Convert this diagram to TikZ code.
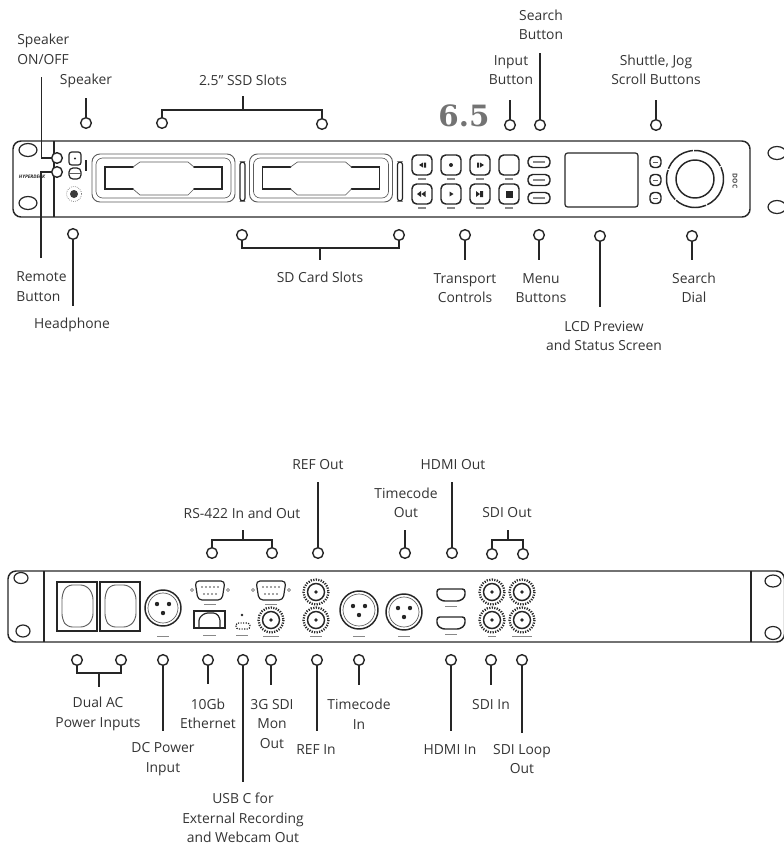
\documentclass[tikz,border=0pt]{standalone}
\usepackage{fontspec}
\setmainfont{Open Sans}
\newfontfamily\digitfont{DejaVu Serif}
\usetikzlibrary{positioning}
\definecolor{ink}{RGB}{38,38,38}
\definecolor{labelink}{RGB}{52,52,52}
\tikzset{
  panel/.style={draw=ink,line width=1.1pt,rounded corners=6pt},
  earline/.style={draw=ink,line width=0.9pt},
  thinpart/.style={draw=ink!75,line width=0.5pt},
  part/.style={draw=ink,line width=0.9pt},
  heavypart/.style={draw=ink,line width=1.3pt},
  knob/.style={part,rounded corners=3pt},
  tick/.style={draw=ink!55,line width=1pt},
  callout/.style={circle,draw=ink,line width=1.05pt,fill=white,minimum size=8pt,inner sep=0pt},
  lead/.style={draw=ink,line width=1pt},
  lab/.style={font=\fontsize{10.4}{14.6}\selectfont,text=labelink,align=center,inner sep=0pt},
}
\begin{document}
\begin{tikzpicture}[x=0.75pt,y=-0.75pt]
\useasboundingbox (0,0) rectangle (784,847);
% front panel
\draw[panel] (13,141) rectangle (750,217);
\draw[earline] (54,141) -- (54,217);
\draw[part] (28,150) ellipse [x radius=9,y radius=6.5];
\draw[part] (28,203) ellipse [x radius=9,y radius=6.5];
\draw[part] (777,153) ellipse [x radius=9,y radius=6.5];
\draw[part] (777,207) ellipse [x radius=9,y radius=6.5];
\node[font=\fontsize{3.6}{4}\selectfont\bfseries\itshape,text=ink,inner sep=0pt] (logo) at (32,177) {HYPERDECK};
\node[font=\fontsize{5}{5}\selectfont\bfseries,text=ink!85,rotate=-90,inner sep=0pt] (brand) at (735,181) {DOC};
% speaker, remote, headphone
\draw[knob,rounded corners=2pt] (69,152) rectangle (81,165);
\fill[ink] (75,158.5) circle (1.2);
\draw[knob] (69,168) rectangle (81,179);
\draw[thinpart] (69,173.5) -- (81,173.5);
\draw[heavypart] (86,160) -- (86,171);
\draw[thinpart,densely dotted] (74,194) circle (7.5);
\fill[ink!90] (74,194) circle (4);
% disk slots
\foreach \dx/\sw in {0/117,157.5/120}{
  \begin{scope}[xshift=\dx*0.75pt]
  \draw[thinpart,rounded corners=6pt,line width=0.7pt] (92,154) rectangle (235,202);
  \draw[thinpart,rounded corners=5pt] (96,158) rectangle (231,198);
  \draw[heavypart,line cap=round] (133,167) -- (105,167) -- (105,189) -- (133,189);
  \draw[heavypart,line cap=round] (194,189) -- (222,189) -- (222,167) -- (194,167);
  \draw[thinpart] (133,167) -- (140,162) -- (188,162) -- (194,167);
  \draw[thinpart] (133,189) -- (140,195) -- (188,195) -- (194,189);
  \draw[part,rounded corners=2pt] (240,162) rectangle (245,201);
  \end{scope}
}
% transport buttons
\foreach \bx in {422,451,480,509}{
  \foreach \by in {165,194}{
    \draw[knob,line width=1.1pt,rounded corners=3.5pt] (\bx-10,\by-10) rectangle (\bx+10,\by+10);
    \draw[tick] (\bx-4,\by+14) -- (\bx+4,\by+14);
  }
}
\fill[ink] (419,165) -- (423,162.5) -- (423,167.5) -- cycle (424,162.5) rectangle (426,167.5);
\fill[ink] (451,165) circle (2);
\fill[ink] (477,162.5) rectangle (479,167.5) (480,162.5) -- (484,165) -- (480,167.5) -- cycle;
\fill[ink] (417,194) -- (421,191) -- (421,197) -- cycle (421.5,194) -- (425.5,191) -- (425.5,197) -- cycle;
\fill[ink] (449.5,191.5) -- (453.5,194) -- (449.5,196.5) -- cycle;
\fill[ink] (476,191) -- (480,194) -- (476,197) -- cycle (480,191) rectangle (483,197);
\fill[ink] (505.5,190.5) rectangle (512.5,197.5);
% menu buttons, screen, side buttons, dial
\foreach \by in {162,180,198}{
  \draw[knob,line width=1.1pt,rounded corners=3.5pt] (528,\by-5.5) rectangle (550,\by+5.5);
  \draw[tick] (533,\by) -- (545,\by);
  \draw[knob,line width=1.1pt] (650,\by-5.5) rectangle (661,\by+5.5);
  \draw[thinpart] (653,\by) -- (658,\by);
}
\draw[part,rounded corners=2pt] (565,153) rectangle (638,207);
\draw[part,line width=1.1pt,dash pattern=on 24pt off 1pt] (695,179) circle (28.5);
\draw[part,line width=1.1pt] (695,179) circle (19);
% rear panel
\draw[panel] (8,571) rectangle (784.5,642);
\draw[earline] (44,571) -- (44,642);
\draw[earline] (751,571) -- (751,642);
\draw[part] (21,578) ellipse [x radius=7,y radius=5.5];
\draw[part] (23,631) ellipse [x radius=7,y radius=6];
\draw[part] (773,581) ellipse [x radius=8,y radius=6];
\draw[part] (773,633) ellipse [x radius=8,y radius=6.5];
% power inlets
\foreach \px in {57,100}{
  \draw[part] (\px,582) rectangle (\px+40,631);
  \draw[thinpart,rounded corners=4pt,line width=0.7pt] (\px+10,585) -- (\px+29,585) -- (\px+36,594) -- (\px+36,619) -- (\px+29,627) -- (\px+10,627) -- (\px+5,619) -- (\px+5,594) -- cycle;
}
% xlr connectors
\foreach \cx/\cy/\cr in {163/608/18,359/610/19,404/612/18}{
  \draw[part,line width=1.1pt] (\cx,\cy) circle (\cr);
  \draw[thinpart] (\cx,\cy) circle (\cr-3);
  \fill[ink] (\cx-6,\cy-4) circle (2.2) (\cx+6,\cy-4) circle (2.2) (\cx,\cy+5) circle (2.2);
  \draw[tick,line width=0.7pt] (\cx-6,636) -- (\cx+6,636);
}
% serial ports
\foreach \cx/\wd in {210/15,271/15}{
  \draw[part,rounded corners=3pt] (\cx-\wd,581) -- (\cx+\wd,581) -- (\cx+\wd-3,600) -- (\cx-\wd+3,600) -- cycle;
  \foreach \ox in {-8,-4,0,4,8}{\fill[ink!85] (\cx+\ox,587) circle (0.8);}
  \foreach \ox in {-6,-2,2,6}{\fill[ink!85] (\cx+\ox,594) circle (0.8);}
  \draw[thinpart] (\cx-18,590) circle (1.5) (\cx+18,590) circle (1.5);
  \draw[tick,line width=0.7pt] (\cx-6,604) -- (\cx+6,604);
}
% ethernet and usb
\draw[part] (194,611) rectangle (225,628);
\draw[part,rounded corners=2pt] (199,628) -- (199,618) -- (205,613) -- (216,613) -- (220,618) -- (220,628);
\draw[tick,line width=0.7pt] (203,635) -- (216,635);
\fill[ink] (242,615) circle (1.3);
\draw[part,densely dotted,rounded corners=2pt] (236,623) rectangle (250,629);
\draw[tick,line width=0.7pt] (236,635) -- (248,635);
% bnc connectors
\foreach \cx/\cy in {271/620,316/592,316/620,492/592,522/592,492/620,522/620}{
  \draw[part,densely dotted,line width=1.7pt] (\cx,\cy) circle (12.5);
  \draw[part,line width=1.1pt] (\cx,\cy) circle (8.5);
  \fill[ink] (\cx,\cy) circle (1.8);
}
\draw[tick,line width=0.7pt] (263,636) -- (279,636) (310,636) -- (322,636) (488,636) -- (496,636) (512,636) -- (532,636);
% hdmi ports
\foreach \cy in {595,623}{
  \draw[part,line width=1.1pt,rounded corners=2pt] (437,\cy-6) -- (465,\cy-6) -- (465,\cy+2) -- (460,\cy+6) -- (442,\cy+6) -- (437,\cy+2) -- cycle;
  \draw[tick,line width=0.7pt] (445,\cy+11) -- (457,\cy+11);
}
% single callouts, front panel and rear panel
\foreach \n/\x/\y/\e in {spk/86/123/98,inp/510/125/100,srch/540/125/53,shut/656/125/100,
    head/73/234/306,tran/465/235/260,menu/539/235/260,lcd/600/236/307,dial/692/236/260,
    refo/318/553/482,tco/405/553/530,hdmo/452/553/482,
    dcin/163/660/731,eth/208/660/684,usb/243/660/782,mon/271/660/685,refi/317/660/731,
    tci/359/660/685,hdmi/451/660/731,sdii/491/660/685,loop/522/660/733}{
  \node[callout] (m\n) at (\x,\y) {};
  \coordinate (e\n) at (\x,\e);
  \draw[lead] (m\n) -- (e\n);
}
% speaker on/off and remote callouts
\node[callout] (mspo) at (57,158) {};
\node[callout] (mrem) at (57,172) {};
\coordinate (espo) at (41.5,77);
\coordinate (erem) at (41,258);
\draw[lead] (espo) |- (mspo);
\draw[lead] (erem) |- (mrem);
% paired callouts
\foreach \n/\xa/\ya/\xb/\yb/\br/\sx/\se in {ssd/162/123/322/124/110/243/96,sdc/242/235/399/235/248/320/260,
    rsp/212/553/272/553/540/243/530,sdo/492/554/523/554/540/508/530,acp/77/660/121/660/673/99/687}{
  \node[callout] (m\n a) at (\xa,\ya) {};
  \node[callout] (m\n b) at (\xb,\yb) {};
  \coordinate (j\n) at (\sx,\br);
  \coordinate (e\n) at (\sx,\se);
  \draw[lead] (m\n a) |- (j\n) -| (m\n b);
  \draw[lead] (j\n) -- (e\n);
}
% labels
\foreach \n/\x/\y/\txt in {tspk/86/81/{Speaker},tssd/243/80/{2.5" SSD Slots},tsrch/541/25/{Search\\Button},
    tinp/511/70/{Input\\Button},tshut/656/70/{Shuttle, Jog\\Scroll Buttons},thead/72/325/{Headphone},
    tsdc/320/277/{SD Card Slots},ttran/465/288/{Transport\\Controls},tmenu/541/288/{Menu\\Buttons},
    tlcd/604/336/{LCD Preview\\and Status Screen},tdial/694/288/{Search\\Dial},
    trsp/242/513/{RS-422 In and Out},trefo/318/465/{REF Out},ttco/406/503/{Timecode\\Out},
    thdmo/453/465/{HDMI Out},tsdo/507/513/{SDI Out},tacp/98/714/{Dual AC\\Power Inputs},
    tdcin/163/759/{DC Power\\Input},teth/208/714/{10Gb\\Ethernet},tusb/243/818/{USB C for\\External Recording\\and Webcam Out},
    tmon/272/724/{3G SDI\\Mon\\Out},trefi/316/750/{REF In},ttci/359/714/{Timecode\\In},
    thdmi/450/750/{HDMI In},tsdii/491/705/{SDI In},tloop/522/759/{SDI Loop\\Out}}{
  \node[lab] (\n) at (\x,\y) {\txt};
}
\node[lab,align=left,anchor=west] (tspo) at (17,49.5) {Speaker\\ON/OFF};
\node[lab,align=left,anchor=west] (trem) at (16,286.5) {Remote\\Button};
\node[font=\digitfont\bfseries\fontsize{22}{22}\selectfont,text=black!55,inner sep=0pt] (ver) at (464,116) {6.5};
\end{tikzpicture}
\end{document}
